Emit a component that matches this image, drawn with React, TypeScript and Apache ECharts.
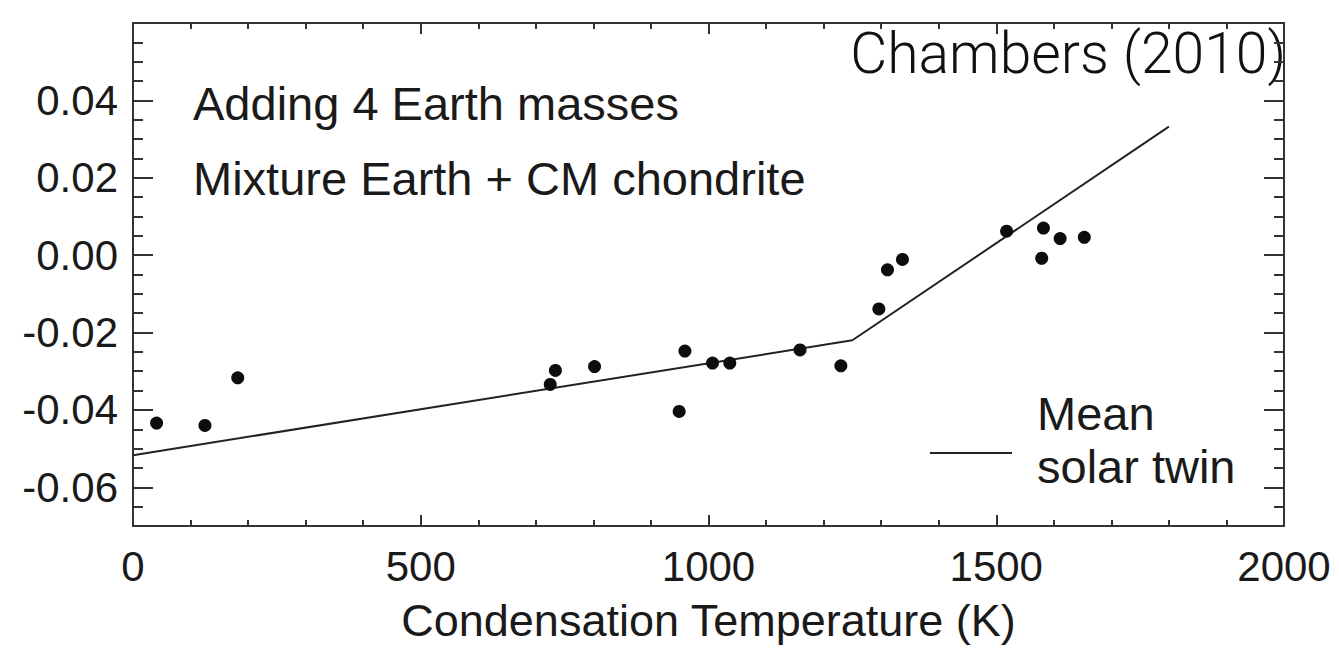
import React, { useEffect, useRef } from "react";
import * as echarts from "echarts";

// Observed abundance differences vs condensation temperature
const tempK = [41, 125, 182, 725, 734, 802, 949, 959, 1007, 1037, 1159, 1230, 1296, 1311, 1337, 1518, 1579, 1582, 1611, 1653];
const deltaAbund = [-0.0434, -0.044, -0.0317, -0.0334, -0.0298, -0.0288, -0.0404, -0.0248, -0.0279, -0.0279, -0.0245, -0.0286, -0.0139, -0.0038, -0.0011, 0.0062, -0.0008, 0.007, 0.0043, 0.0046];

// Mean solar twin trend (broken line)
const trendX = [0, 1250, 1800];
const trendY = [-0.0517, -0.022, 0.0332];

const xMajorTicks = [0, 500, 1000, 1500, 2000];
const yMajorTicks = [-0.06, -0.04, -0.02, 0, 0.02, 0.04];

const FONT = "'Liberation Sans', Arial, Helvetica, sans-serif";
const INK = "#1a1a1a";
const AXIS = "#333";

export default function App() {
  const ref = useRef<HTMLDivElement>(null);

  useEffect(() => {
    if (!ref.current) return;
    const chart = echarts.init(ref.current, null, { renderer: "svg" });

    const minorX = (position: "bottom" | "top") => ({
      type: "value" as const,
      position,
      min: 0,
      max: 2000,
      interval: 100,
      axisLine: { show: true, onZero: false, lineStyle: { color: AXIS, width: 2 } },
      axisTick: { show: true, inside: true, length: 6, lineStyle: { color: AXIS, width: 2 } },
      axisLabel: { show: false },
      splitLine: { show: false },
    });
    const majorX = (position: "bottom" | "top", labels: boolean) => ({
      type: "value" as const,
      position,
      min: 0,
      max: 2000,
      axisLine: { show: false, onZero: false },
      axisTick: { show: true, inside: true, length: 11, customValues: xMajorTicks, lineStyle: { color: AXIS, width: 2 } },
      axisLabel: {
        show: labels,
        customValues: xMajorTicks,
        fontSize: 42,
        fontFamily: FONT,
        color: INK,
        margin: 19,
        formatter: (v: number) => String(v),
      },
      splitLine: { show: false },
      ...(labels
        ? {
            name: "Condensation Temperature (K)",
            nameLocation: "middle" as const,
            nameGap: 72,
            nameTextStyle: { fontSize: 45, fontFamily: FONT, color: INK },
          }
        : {}),
    });
    const minorY = (position: "left" | "right") => ({
      type: "value" as const,
      position,
      min: -0.07,
      max: 0.06,
      interval: 0.005,
      axisLine: { show: true, onZero: false, lineStyle: { color: AXIS, width: 2 } },
      axisTick: { show: true, inside: true, length: 10, lineStyle: { color: AXIS, width: 2 } },
      axisLabel: { show: false },
      splitLine: { show: false },
    });
    const majorY = (position: "left" | "right", labels: boolean) => ({
      type: "value" as const,
      position,
      min: -0.07,
      max: 0.06,
      axisLine: { show: false, onZero: false },
      axisTick: { show: true, inside: true, length: 20, customValues: yMajorTicks, lineStyle: { color: AXIS, width: 2 } },
      axisLabel: {
        show: labels,
        customValues: yMajorTicks,
        fontSize: 42,
        fontFamily: FONT,
        color: INK,
        margin: 15,
        formatter: (v: number) => v.toFixed(2),
      },
      splitLine: { show: false },
    });

    chart.setOption({
      animation: false,
      backgroundColor: "#fff",
      grid: { left: 133, right: 55, top: 23, bottom: 115, containLabel: false },
      xAxis: [minorX("bottom"), majorX("bottom", true), minorX("top"), majorX("top", false)],
      yAxis: [minorY("left"), majorY("left", true), minorY("right"), majorY("right", false)],
      series: [
        {
          name: "Mean solar twin",
          type: "line",
          xAxisIndex: 0,
          yAxisIndex: 0,
          data: trendX.map((x, i) => [x, trendY[i]]),
          showSymbol: false,
          symbol: "none",
          lineStyle: { color: "#222", width: 2 },
          z: 2,
        },
        {
          name: "Elements",
          type: "scatter",
          xAxisIndex: 0,
          yAxisIndex: 0,
          data: tempK.map((x, i) => [x, deltaAbund[i]]),
          symbol: "circle",
          symbolSize: 13,
          itemStyle: { color: "#0d0d0d", opacity: 1 },
          z: 3,
        },
      ],
      graphic: [
        {
          type: "text",
          left: 193,
          top: 107 - 27,
          style: { text: "Adding 4 Earth masses", fontSize: 47, fontFamily: FONT, fill: INK },
        },
        {
          type: "text",
          left: 193,
          top: 182 - 27,
          style: { text: "Mixture Earth + CM chondrite", fontSize: 47, fontFamily: FONT, fill: INK },
        },
        {
          type: "text",
          right: 1339 - 1286,
          top: 58 - 33,
          style: {
            text: "Chambers (2010)",
            fontSize: 57,
            fontWeight: 300,
            fontFamily: "Roboto, 'Open Sans', sans-serif",
            fill: "#111",
          },
        },
        {
          type: "line",
          shape: { x1: 930, y1: 453, x2: 1012, y2: 453 },
          style: { stroke: "#222", lineWidth: 2 },
        },
        {
          type: "text",
          left: 1037,
          top: 417 - 27,
          style: { text: "Mean", fontSize: 47, fontFamily: FONT, fill: INK },
        },
        {
          type: "text",
          left: 1037,
          top: 470 - 27,
          style: { text: "solar twin", fontSize: 47, fontFamily: FONT, fill: INK },
        },
      ],
    });

    return () => chart.dispose();
  }, []);

  return (
    <div
      ref={ref}
      style={{ position: "fixed", left: 0, top: 0, width: 1339, height: 648, background: "#fff" }}
    />
  );
}
